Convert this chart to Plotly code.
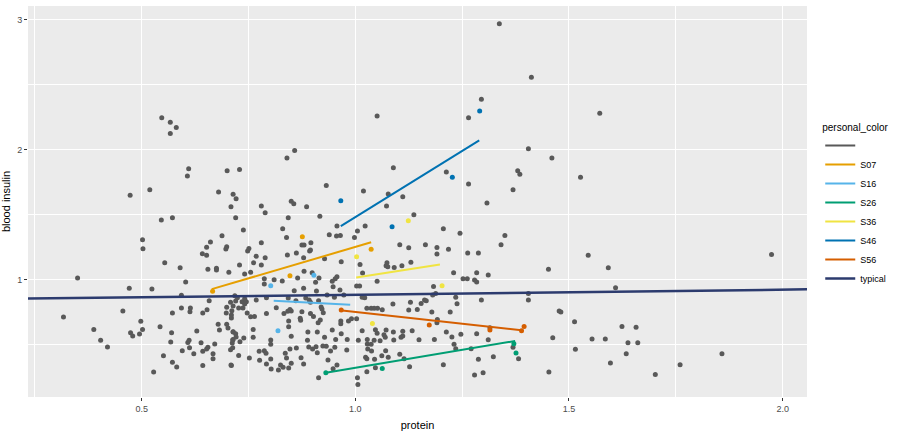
import plotly.graph_objects as go

# ---------------- data ----------------
# grey (unlabelled) individuals
grey_protein = [
    0.547, 0.567, 0.581, 0.567, 0.610, 0.607, 0.700, 0.519, 0.473, 0.680, 0.714, 0.721, 0.709, 0.546, 0.572, 0.720,
    0.688, 0.661, 0.652, 0.699, 0.697, 0.502, 0.503, 0.642, 0.652, 0.554, 0.590, 0.655, 0.675, 0.675, 0.704, 0.350,
    0.603, 0.471, 0.524, 0.593, 0.718, 0.658, 0.708, 0.593, 0.614, 0.613, 0.653, 0.699, 0.711, 0.456, 0.572, 0.643,
    0.698, 0.317, 0.710, 0.498, 0.679, 0.699, 0.702, 0.388, 0.502, 0.543, 0.474, 0.479, 0.495, 0.682, 0.629, 0.570,
    0.714, 0.404, 0.568, 0.608, 0.611, 0.639, 0.671, 0.714, 0.712, 0.420, 0.612, 0.655, 0.652, 0.595, 0.643, 0.622,
    0.667, 0.708, 0.667, 0.551, 0.572, 0.582, 0.643, 0.710, 0.528,
    0.748, 0.768, 0.789, 0.841, 0.862, 0.879, 0.893, 0.928, 0.729, 0.762, 0.780, 0.967, 1.011, 1.074, 1.072, 1.076,
    1.091, 1.109, 1.130, 0.741, 0.755, 0.880, 0.899, 0.915, 0.953, 0.957, 1.017, 1.051, 0.787, 0.810, 0.829, 0.865,
    0.787, 0.907, 0.946, 0.948, 1.003, 1.010, 0.909, 0.879, 0.857, 0.964, 0.724, 0.741, 0.735, 0.745, 0.741, 0.720,
    0.768, 0.792, 0.884, 0.892, 0.895, 0.914, 0.843, 0.861, 0.934, 0.951, 0.973, 1.022, 1.016, 1.052, 1.037, 1.027,
    1.044, 1.063, 1.088, 1.129, 1.154, 1.162, 1.125, 1.145, 0.714, 0.727, 0.737, 0.815, 0.847, 0.842, 0.850, 0.920,
    0.922, 0.875, 0.792, 0.747, 0.833, 0.895, 0.925, 0.755, 0.764, 0.710, 0.902, 0.966, 0.966, 0.984, 0.991, 1.003,
    0.871, 0.872, 0.918, 0.844, 0.913, 0.844, 0.761, 0.714, 0.720, 0.889, 0.911, 0.946, 0.967, 1.016, 1.047, 1.051,
    1.072, 1.067, 1.070, 1.089, 1.111, 1.107, 1.111, 1.133, 0.721, 0.713, 0.730, 0.739, 0.761, 0.802, 0.850, 0.888,
    0.928, 0.954, 0.981, 1.007, 1.028, 1.044, 1.058, 1.090, 1.028, 1.037, 1.149, 0.802, 0.862, 0.891, 0.900, 0.908,
    0.924, 0.932, 0.952, 0.980, 0.847, 0.713, 0.727, 0.775, 0.787, 0.791, 0.836, 0.911, 0.942, 1.029, 1.038, 1.071,
    1.062, 1.104, 1.114, 0.752, 0.802, 0.839, 0.873, 0.936, 1.024, 1.027, 1.045, 1.077, 0.776, 0.792, 0.825, 0.850,
    0.879, 0.957, 0.709, 1.047, 1.127, 0.803, 0.820, 0.831, 0.844, 0.948, 1.027, 0.914, 1.005, 1.006,
    1.051, 0.858, 0.840, 0.729, 1.089, 0.932, 1.019, 1.077, 1.111, 0.850, 0.856, 0.780, 0.886, 1.073, 0.789, 0.843,
    0.917, 1.137, 0.738, 0.830, 0.957, 1.005, 1.023, 0.939, 0.956, 0.965, 0.998, 0.839, 0.780, 0.875, 0.880, 0.896,
    0.895, 0.751, 1.104, 1.125, 1.164,
    1.191, 1.263, 1.288, 1.545, 1.592, 1.452, 1.230, 1.284, 1.311, 1.252, 1.262, 1.279, 1.284, 1.183, 1.609, 1.181,
    1.188, 1.405, 1.166, 1.235, 1.238, 1.295, 1.405, 1.179, 1.222, 1.477, 1.481, 1.513, 1.624, 1.192, 1.191, 1.315,
    1.213, 1.226, 1.247, 1.284, 1.185, 1.311, 1.462, 1.554, 1.585, 1.231, 1.235, 1.271, 1.369, 1.515, 1.382, 1.323,
    1.288, 1.206, 1.597, 1.299, 1.279, 1.453,
    1.337, 1.412, 1.295, 1.265, 1.572, 1.405, 1.460, 1.380, 1.385, 1.213, 1.265, 1.527, 1.369, 1.308, 1.206, 1.245,
    1.350, 1.341, 1.191, 1.218, 1.974,
    1.657, 1.638, 1.661, 1.634, 1.702, 1.760, 1.858,
]
grey_insulin = [
    2.243, 2.208, 2.169, 2.123, 1.851, 1.795, 1.835, 1.689, 1.648, 1.672, 1.654, 1.620, 1.558, 1.456, 1.474, 1.474,
    1.335, 1.287, 1.248, 1.251, 1.233, 1.305, 1.235, 1.197, 1.185, 1.128, 1.089, 1.077, 1.085, 1.072, 1.054, 1.010,
    0.979, 0.931, 0.925, 0.877, 0.874, 0.835, 0.823, 0.779, 0.779, 0.751, 0.766, 0.785, 0.758, 0.756, 0.741, 0.741,
    0.741, 0.710, 0.702, 0.677, 0.654, 0.654, 0.625, 0.615, 0.615, 0.635, 0.589, 0.564, 0.579, 0.610, 0.602, 0.589,
    0.595, 0.531, 0.518, 0.515, 0.531, 0.512, 0.502, 0.538, 0.510, 0.479, 0.474, 0.477, 0.464, 0.451, 0.446, 0.428,
    0.428, 0.458, 0.389, 0.412, 0.362, 0.325, 0.338, 0.338, 0.287,
    1.218, 1.177, 1.166, 1.187, 1.202, 1.166, 1.218, 1.158, 1.110, 1.128, 1.110, 1.135, 1.115, 1.128, 1.105, 1.097,
    1.092, 1.105, 1.131, 1.041, 1.054, 1.062, 1.051, 1.010, 1.005, 1.020, 1.048, 0.985, 1.005, 0.997, 0.987, 1.010,
    0.964, 0.977, 0.985, 0.943, 0.948, 0.948, 0.910, 0.931, 0.912, 0.918, 0.858, 0.851, 0.828, 0.828, 0.810, 0.833,
    0.841, 0.858, 0.856, 0.841, 0.823, 0.835, 0.856, 0.835, 0.879, 0.862, 0.879, 0.858, 0.862, 0.777, 0.777, 0.777,
    0.777, 0.766, 0.810, 0.823, 0.815, 0.841, 0.764, 0.769, 0.795, 0.779, 0.779, 0.782, 0.769, 0.754, 0.756, 0.787,
    0.772, 0.751, 0.738, 0.741, 0.738, 0.738, 0.743, 0.712, 0.715, 0.725, 0.715, 0.679, 0.658, 0.679, 0.697, 0.697,
    0.700, 0.685, 0.687, 0.679, 0.666, 0.635, 0.615, 0.597, 0.582, 0.595, 0.595, 0.610, 0.582, 0.605, 0.612, 0.585,
    0.610, 0.574, 0.554, 0.595, 0.600, 0.554, 0.564, 0.605, 0.556, 0.533, 0.520, 0.548, 0.554, 0.533, 0.562, 0.531,
    0.554, 0.538, 0.538, 0.531, 0.538, 0.531, 0.528, 0.533, 0.502, 0.500, 0.535, 0.500, 0.472, 0.479, 0.464, 0.482,
    0.487, 0.485, 0.477, 0.456, 0.464, 0.474, 0.415, 0.446, 0.451, 0.431, 0.431, 0.435, 0.448, 0.464, 0.448, 0.451,
    0.412, 0.423, 0.389, 0.395, 0.387, 0.395, 0.397, 0.379, 0.400, 0.389, 0.385, 0.400, 0.377, 0.348, 0.341, 0.354,
    0.348, 0.341, 0.341, 0.320, 0.328, 0.310, 0.302, 0.323, 0.318, 0.312, 0.289, 0.243, 0.243, 0.192,
    2.256, 1.992, 1.933, 1.846, 1.858, 1.723, 1.679, 1.656, 1.635, 1.600, 1.582, 1.564, 1.558, 1.564, 1.512, 1.474,
    1.485, 1.497, 1.379, 1.389, 1.410, 1.372, 1.410, 1.343, 1.333, 1.338, 1.323, 1.323, 1.282, 1.264, 1.264, 1.282,
    1.225, 1.238, 1.266, 1.243, 1.266,
    1.195, 1.202, 1.202, 1.185, 1.089, 1.077, 1.051, 1.051, 1.033, 1.005, 1.005, 0.995, 0.979, 0.946, 0.935, 0.879,
    0.892, 0.892, 0.835, 0.862, 0.812, 0.841, 0.841, 0.748, 0.748, 0.756, 0.748, 0.674, 0.638, 0.692, 0.666, 0.628,
    0.595, 0.556, 0.577, 0.582, 0.538, 0.535, 0.551, 0.541, 0.541, 0.500, 0.466, 0.466, 0.477, 0.462, 0.389, 0.405,
    0.385, 0.343, 0.356, 0.282, 0.264, 0.287,
    2.966, 2.554, 2.385, 2.243, 2.277, 2.005, 1.933, 1.835, 1.808, 1.825, 1.733, 1.785, 1.689, 1.587, 1.389, 1.354,
    1.338, 1.266, 1.246, 1.231, 1.192,
    0.631, 0.512, 0.512, 0.428, 0.269, 0.343, 0.428,
]

# highlighted individuals: points
groups = ["S07", "S16", "S26", "S36", "S46", "S56"]
S07_protein = [0.666, 0.847, 0.876, 1.037]
S07_insulin = [0.908, 1.028, 1.328, 1.231]
S16_protein = [0.802, 0.819, 0.903]
S16_insulin = [0.951, 0.605, 1.032]
S26_protein = [0.931, 1.063, 1.371, 1.376]
S26_insulin = [0.282, 0.315, 0.505, 0.433]
S36_protein = [1.003, 1.040, 1.124, 1.203]
S36_insulin = [1.174, 0.660, 1.451, 0.951]
S46_protein = [0.966, 1.086, 1.227, 1.291]
S46_insulin = [1.605, 1.405, 1.785, 2.295]
S56_protein = [0.967, 1.173, 1.315, 1.389, 1.395]
S56_insulin = [0.765, 0.648, 0.610, 0.605, 0.638]

# fitted lines (start / end) per individual
S07_fit_protein = [0.664, 1.037]
S07_fit_insulin = [0.925, 1.285]
S16_fit_protein = [0.809, 0.988]
S16_fit_insulin = [0.835, 0.805]
S26_fit_protein = [0.931, 1.374]
S26_fit_insulin = [0.282, 0.526]
S36_fit_protein = [1.002, 1.198]
S36_fit_insulin = [1.015, 1.115]
S46_fit_protein = [0.966, 1.290]
S46_fit_insulin = [1.410, 2.070]
S56_fit_protein = [0.964, 1.389]
S56_fit_insulin = [0.762, 0.608]
typical_fit_protein = [0.234, 2.057]
typical_fit_insulin = [0.852, 0.923]

x_ticks = [0.5, 1.0, 1.5, 2.0]
x_ticklabels = ["0.5", "1.0", "1.5", "2.0"]
y_ticks = [1, 2, 3]
y_ticklabels = ["1", "2", "3"]

# ---------------- styles ----------------
colors = {
    "S07": "#E69F00", "S16": "#56B4E9", "S26": "#009E73",
    "S36": "#F0E442", "S46": "#0072B2", "S56": "#D55E00",
}
typical_color = "#2C3B6E"
grey_color = "#595959"
FONT = "Liberation Sans, Arial, sans-serif"

pts = {
    "S07": (S07_protein, S07_insulin), "S16": (S16_protein, S16_insulin),
    "S26": (S26_protein, S26_insulin), "S36": (S36_protein, S36_insulin),
    "S46": (S46_protein, S46_insulin), "S56": (S56_protein, S56_insulin),
}
fits = {
    "S07": (S07_fit_protein, S07_fit_insulin), "S16": (S16_fit_protein, S16_fit_insulin),
    "S26": (S26_fit_protein, S26_fit_insulin), "S36": (S36_fit_protein, S36_fit_insulin),
    "S46": (S46_fit_protein, S46_fit_insulin), "S56": (S56_fit_protein, S56_fit_insulin),
}

fig = go.Figure()

# grey points
fig.add_trace(go.Scatter(
    x=grey_protein, y=grey_insulin, mode="markers",
    marker=dict(size=5, color=grey_color), showlegend=False, hoverinfo="skip"))

# legend entry for grey (unnamed) group
fig.add_trace(go.Scatter(
    x=[None], y=[None], mode="lines", name=" ",
    line=dict(color=grey_color, width=2), showlegend=True))

for g in groups:
    fx, fy = fits[g]
    fig.add_trace(go.Scatter(
        x=fx, y=fy, mode="lines", name=g, legendgroup=g,
        line=dict(color=colors[g], width=2)))

for g in groups:
    px, py = pts[g]
    fig.add_trace(go.Scatter(
        x=px, y=py, mode="markers", legendgroup=g, showlegend=False,
        marker=dict(size=5, color=colors[g])))

fig.add_trace(go.Scatter(
    x=typical_fit_protein, y=typical_fit_insulin, mode="lines", name="typical",
    line=dict(color=typical_color, width=2.5)))

axis_common = dict(
    showline=False, zeroline=False, gridcolor="#FFFFFF", gridwidth=1.2,
    ticks="outside", ticklen=3, tickcolor="#333333", tickwidth=1,
    tickfont=dict(family=FONT, size=9, color="#4D4D4D"),
    minor=dict(showgrid=True, gridcolor="#FFFFFF", gridwidth=0.6, ticks=""),
)

fig.update_xaxes(
    range=[0.234, 2.057], tickvals=x_ticks, ticktext=x_ticklabels,
    minor_tickvals=[0.25, 0.75, 1.25, 1.75],
    title=dict(text="protein", font=dict(family=FONT, size=11, color="#000000"), standoff=8),
    **axis_common)
fig.update_yaxes(
    range=[0.095, 3.103], tickvals=y_ticks, ticktext=y_ticklabels,
    minor_tickvals=[0.5, 1.5, 2.5],
    title=dict(text="blood insulin", font=dict(family=FONT, size=11, color="#000000"), standoff=4),
    **axis_common)

fig.update_layout(
    width=902, height=435,
    margin=dict(l=28, r=95, t=6, b=38, autoexpand=False),
    plot_bgcolor="#EBEBEB", paper_bgcolor="#FFFFFF",
    font=dict(family=FONT, size=10, color="#000000"),
    legend=dict(
        title=dict(text="personal_color", font=dict(family=FONT, size=10, color="#000000")),
        x=1.017, xanchor="left", y=0.49, yanchor="middle",
        font=dict(family=FONT, size=9, color="#000000"),
        bgcolor="rgba(0,0,0,0)", itemwidth=30, tracegroupgap=0,
    ),
    hovermode=False,
)

fig.write_html("out.html")
